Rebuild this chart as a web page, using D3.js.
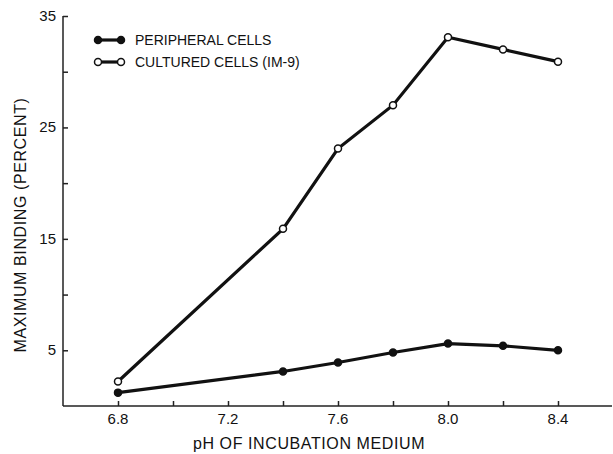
<!DOCTYPE html>
<html>
<head>
<meta charset="utf-8">
<script src="https://cdn.jsdelivr.net/npm/d3@7"></script>
<style>
  body { margin: 0; background: #fff; }
  svg text { font-family: "Liberation Sans", Arial, sans-serif; fill: #111; }
</style>
</head>
<body>
<div id="chart"></div>
<script>
const phValues = [6.8, 7.4, 7.6, 7.8, 8.0, 8.2, 8.4];
const peripheral = [1.2, 3.1, 3.9, 4.8, 5.6, 5.4, 5.0];
const cultured = [2.2, 15.9, 23.1, 27.0, 33.1, 32.0, 30.9];
const seriesNames = ['PERIPHERAL CELLS', 'CULTURED CELLS (IM-9)'];
const xTickValues = [6.8, 7.0, 7.2, 7.4, 7.6, 7.8, 8.0, 8.2, 8.4];
const xTickLabels = ['6.8', '7.2', '7.6', '8.0', '8.4'];
const yTickValues = [5, 10, 15, 20, 25, 30, 35];
const yTickLabels = ['5', '15', '25', '35'];

const width = 613;
const height = 454;
const plotLeft = 63, plotRight = 612, plotTop = 16, plotBottom = 406;

const svg = d3.select('#chart')
    .append('svg')
    .attr('width', width)
    .attr('height', height);

const xScale = d3.scaleLinear().domain([6.6, 8.6]).range([plotLeft, 613]);
const yScale = d3.scaleLinear().domain([0, 35]).range([plotBottom, plotTop]);

// axes with inward ticks
const xAxis = d3.axisTop(xScale)
    .tickValues(xTickValues)
    .tickSize(5)
    .tickSizeOuter(0)
    .tickFormat('');
const yAxis = d3.axisRight(yScale)
    .tickValues(yTickValues)
    .tickSize(5)
    .tickSizeOuter(0)
    .tickFormat('');

svg.append('g')
    .attr('transform', `translate(0, ${plotBottom})`)
    .call(xAxis)
    .call(g => g.select('.domain').attr('d', `M${plotLeft},0H${plotRight}`))
    .call(g => g.selectAll('path, line').attr('stroke', '#222').attr('stroke-width', 1.5));

svg.append('g')
    .attr('transform', `translate(${plotLeft}, 0)`)
    .call(yAxis)
    .call(g => g.select('.domain').attr('d', `M0,${plotTop}V${plotBottom}`))
    .call(g => g.selectAll('path, line').attr('stroke', '#222').attr('stroke-width', 1.5));

svg.append('g').selectAll('text')
    .data(xTickLabels)
    .enter()
    .append('text')
    .attr('x', d => xScale(+d))
    .attr('y', 424)
    .attr('text-anchor', 'middle')
    .style('font-size', '15px')
    .text(d => d);

svg.append('g').selectAll('text')
    .data(yTickLabels)
    .enter()
    .append('text')
    .attr('x', 56)
    .attr('y', d => yScale(+d) + 5)
    .attr('text-anchor', 'end')
    .style('font-size', '15px')
    .text(d => d);

svg.append('text')
    .attr('x', 309)
    .attr('y', 449)
    .attr('text-anchor', 'middle')
    .style('font-size', '16px')
    .style('letter-spacing', '0.6px')
    .text('pH OF INCUBATION MEDIUM');

svg.append('text')
    .attr('transform', 'translate(26, 225) rotate(-90)')
    .attr('text-anchor', 'middle')
    .style('font-size', '16px')
    .style('letter-spacing', '0.6px')
    .text('MAXIMUM BINDING (PERCENT)');

const line = d3.line()
    .x((d, i) => xScale(phValues[i]))
    .y(d => yScale(d));

const series = [
    { name: seriesNames[0], values: peripheral, fill: '#111' },
    { name: seriesNames[1], values: cultured, fill: '#fff' }
];

series.forEach(s => {
    svg.append('path')
        .datum(s.values)
        .attr('fill', 'none')
        .attr('stroke', '#111')
        .attr('stroke-width', 3.2)
        .attr('d', line);

    svg.append('g').selectAll('circle')
        .data(s.values)
        .enter()
        .append('circle')
        .attr('cx', (d, i) => xScale(phValues[i]))
        .attr('cy', d => yScale(d))
        .attr('r', 3.5)
        .attr('fill', s.fill)
        .attr('stroke', '#111')
        .attr('stroke-width', 1.5);
});

// legend
const legend = svg.append('g');
series.forEach((s, i) => {
    const ly = 40 + i * 22;
    legend.append('line')
        .attr('x1', 98).attr('x2', 121)
        .attr('y1', ly).attr('y2', ly)
        .attr('stroke', '#111')
        .attr('stroke-width', 3.2);
    [98, 121].forEach(cx => {
        legend.append('circle')
            .attr('cx', cx).attr('cy', ly)
            .attr('r', 3.5)
            .attr('fill', s.fill)
            .attr('stroke', '#111')
            .attr('stroke-width', 1.5);
    });
    legend.append('text')
        .attr('x', 135)
        .attr('y', ly + 5)
        .style('font-size', '14px')
        .text(s.name);
});
</script>
</body>
</html>
